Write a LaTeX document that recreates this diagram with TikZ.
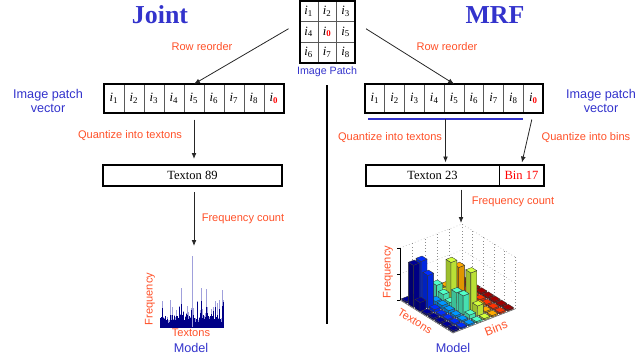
\documentclass[tikz,border=0pt]{standalone}
\usepackage{fontspec}
\setmainfont{Liberation Serif}
\setsansfont{Liberation Sans}
\usepackage{tikz}
\usetikzlibrary{positioning}
\usetikzlibrary{calc}
\usetikzlibrary{arrows.meta}
\definecolor{labelred}{RGB}{255,80,40}
\definecolor{titleblue}{RGB}{51,51,204}
\definecolor{histdark}{RGB}{0,0,135}
\definecolor{histlight}{RGB}{160,160,220}
\definecolor{bin0}{RGB}{0,0,150}
\definecolor{bin1}{RGB}{0,45,255}
\definecolor{bin2}{RGB}{0,150,255}
\definecolor{bin3}{RGB}{80,255,200}
\definecolor{bin4}{RGB}{210,255,60}
\definecolor{bin5}{RGB}{255,170,0}
\definecolor{bin6}{RGB}{255,50,0}
\definecolor{bin7}{RGB}{160,0,0}
\tikzstyle{cell} = [draw=black!65, line width=0.5pt, inner sep=0pt, outer sep=0pt, font=\fontsize{9.5}{10}\selectfont]
\tikzstyle{vcell} = [cell, minimum width=15pt, minimum height=21.75pt]
\tikzstyle{rvcell} = [cell, minimum width=14.85pt, minimum height=21.75pt]
\tikzstyle{pcell} = [cell, minimum width=13.875pt, minimum height=15.375pt]
\tikzstyle{heavybox} = [draw=black, line width=1.5pt]
\tikzstyle{tbox} = [draw=black, line width=0.6pt, minimum height=15.75pt, inner sep=0pt, outer sep=0pt, font=\fontsize{9.4}{10}\selectfont]
\tikzstyle{lbl} = [font=\sffamily\fontsize{8.3}{10}\selectfont, text=labelred]
\tikzstyle{bluelbl} = [font=\sffamily\fontsize{9.5}{11}\selectfont, text=titleblue, align=center]
\tikzstyle{ttl} = [font=\bfseries\fontsize{19.4}{22}\selectfont, text=titleblue, anchor=base]
\tikzstyle{conn} = [->, line width=0.6pt, draw=black!85]
\tikzstyle{gridline} = [draw=black!45, dotted, line width=0.4pt]
\tikzstyle{barline} = [draw=black!80, line width=0.25pt]
\newcommand{\ient}[1]{\textit{i}\textsubscript{#1}}
\newcommand{\izero}{\textcolor{red}{\textbf{0}}}
% one bar of the 3d model: texton, bin, height, colour
\newcommand{\modelbar}[4]{%
  \filldraw[barline, fill=#4!75!black] (#1+0.12,#2+0.12,0) -- (#1+0.88,#2+0.12,0) -- (#1+0.88,#2+0.12,#3) -- (#1+0.12,#2+0.12,#3) -- cycle;
  \filldraw[barline, fill=#4!88!black] (#1+0.88,#2+0.12,0) -- (#1+0.88,#2+0.88,0) -- (#1+0.88,#2+0.88,#3) -- (#1+0.88,#2+0.12,#3) -- cycle;
  \filldraw[barline, fill=#4] (#1+0.12,#2+0.12,#3) -- (#1+0.88,#2+0.12,#3) -- (#1+0.88,#2+0.88,#3) -- (#1+0.12,#2+0.88,#3) -- cycle;}

\begin{document}
\begin{tikzpicture}[x=0.75pt, y=-0.75pt, >={Latex[length=4.5pt,width=3.6pt]}]
    \useasboundingbox (0,0) rectangle (638,362);

    \node [ttl] (joint) at (160,23) {Joint};
    \node [ttl] (mrf) at (495,23) {MRF};

    % image patch
    \foreach \n/\c/\r/\s in {1/0/0/1,2/1/0/2,3/2/0/3,4/0/1/4,5/1/1/\izero,6/2/1/5,7/0/2/6,8/1/2/7,9/2/2/8}
        \node [pcell] (p\n) at (308.75+18.5*\c, 11.25+20.5*\r) {\ient{\s}};
    \draw [heavybox] (p1.north west) rectangle (p9.south east);
    \node [bluelbl, font=\sffamily\fontsize{8}{10}\selectfont] (patchlbl) at (327,72) {Image Patch};

    % patch vectors
    \foreach \n/\s in {1/1,2/2,3/3,4/4,5/5,6/6,7/7,8/8,9/\izero} {
        \node [vcell] (lv\n) at (94+20*\n, 98.5) {\ient{\s}};
        \node [rvcell] (rv\n) at (355.1+19.8*\n, 98.5) {\ient{\s}};
    }
    \draw [heavybox] (lv1.north west) rectangle (lv9.south east);
    \draw [heavybox] (rv1.north west) rectangle (rv9.south east);
    \node [bluelbl] (lvlbl) at (48,101) {Image patch\\vector};
    \node [bluelbl] (rvlbl) at (601,101) {Image patch\\vector};

    \draw [conn] ($(p4.west)+(-11,-3)$) -- (lv5.north);
    \draw [conn] ($(p6.east)+(11,-3)$) -- (rv5.north);
    \node [lbl] (rowl) at (202,47) {Row reorder};
    \node [lbl] (rowr) at (447,47) {Row reorder};

    % texton boxes
    \node [tbox, minimum width=134.25pt] (ltex) at (192.5,175.5) {Texton 89};
    \node [tbox, minimum width=99.75pt] (rtex) at (432.5,175) {Texton 23};
    \node [tbox, minimum width=33.75pt, text=red, right=0pt of rtex] (rbin) {Bin 17};
    \draw [heavybox] (ltex.north west) rectangle (ltex.south east);
    \draw [heavybox] (rtex.north west) rectangle (rbin.south east);

    \draw [conn, shorten <=5pt, shorten >=4.5pt] (lv5.south) -- (lv5.south |- ltex.north);
    \node [lbl] (ql) at (130,136) {Quantize into textons};

    \coordinate (bla) at (368,119);
    \coordinate (blb) at (523,119);
    \coordinate (blm) at ($(bla)!0.5!(blb)$);
    \draw [titleblue, line width=0.8pt] (bla) -- (blb);
    \draw [conn, shorten >=1.5pt] (blm) -- (blm |- rtex.north);
    \draw [conn, shorten <=5pt, shorten >=1.5pt] (rv9.south) -- (rbin.north);
    \node [lbl] (qr) at (390,138) {Quantize into textons};
    \node [lbl] (qb) at (586,138) {Quantize into bins};

    % frequency count
    \coordinate (lmodel) at (194,246);
    \draw [conn, shorten <=4.5pt] (lmodel |- ltex.south) -- (lmodel);
    \node [lbl] (fl) at (243,219) {Frequency count};
    \coordinate (rmodel) at (461,223);
    \draw [conn, shorten <=3pt] (rmodel |- rtex.south) -- (rmodel);
    \node [lbl] (fr) at (513,202) {Frequency count};

    \coordinate (divtop) at (327,85);
    \coordinate (divbot) at (327,324);
    \draw [line width=0.9pt] (divtop) -- (divbot);

    % joint model: texton histogram
    \pgfmathsetseed{42}
    \foreach \k in {0,...,63} {
        \pgfmathsetmacro{\hl}{6+34*rnd*rnd}
        \pgfmathsetmacro{\hd}{max(4+8*rnd,\hl*(0.45+0.55*rnd))}
        \fill [histlight] (160+\k,327) rectangle ++(1.3,-\hl);
        \fill [histdark] (160+\k,327) rectangle ++(1.3,-\hd);
    }
    \fill [histlight] (192,327) rectangle ++(1.4,-71);
    \draw [histdark, line width=0.6pt] (160,327) -- (224,327);
    \node [lbl, rotate=90] (lfreq) at (150,299) {Frequency};
    \node [lbl] (ltxt) at (191,333) {Textons};
    \node [bluelbl] (lmodlbl) at (191,348) {Model};

    % mrf model: textons x bins
    \begin{scope}[shift={(400,300)}, x={(4.96875pt,-3.09375pt)}, y={(5.8125pt,2.25pt)}, z={(0pt,0.75pt)}]
        \foreach \k in {0,1.6,3.2,4.8,6.4,8} {
            \draw [gridline] (0,\k,0) -- (0,\k,52);
            \draw [gridline] (\k,8,0) -- (\k,8,52);
            \draw [gridline] (\k,0,0) -- (\k,8,0);
            \draw [gridline] (0,\k,0) -- (8,\k,0);
        }
        \foreach \h in {26,52}
            \draw [gridline] (0,0,\h) -- (0,8,\h) -- (8,8,\h);
        \draw [black!60, line width=0.4pt] (0,0,0) -- (8,0,0) -- (8,8,0);
        \draw [black, line width=0.5pt] (0,0,52) -- (0,0,0);
        \foreach \h in {0,26,52}
            \draw [black, line width=0.5pt] (0,0,\h) -- ++(-2pt,0pt);
        \foreach \b/\col/\hs in {7/bin7/{1.5,1.5,1.5,1.5,1.5,1.5,1.5,1.5},
                                 6/bin6/{1.5,2,2,2,2,1.5,1.5,1.5},
                                 5/bin5/{1.5,1.5,29,3,1.5,4,1.5,1.5},
                                 4/bin4/{1.5,3,37,6,12,39,10,1.5},
                                 3/bin3/{1.5,13,8,4,18,19,4,1.5},
                                 2/bin2/{1.5,1.5,4,4,3,2,1.5,1.5},
                                 1/bin1/{1.5,43,33,3,1.5,1.5,1.5,1.5},
                                 0/bin0/{1.5,42,9,1.5,1.5,1.5,1.5,1.5}}
            \foreach \h [count=\t from 0] in \hs
                \modelbar{\t}{\b}{\h}{\col};
    \end{scope}
    \node [lbl, rotate=90] (rfreq) at (388,272) {Frequency};
    \node [lbl, rotate=-32] (rtxt) at (415,321) {Textons};
    \node [lbl, rotate=21, font=\sffamily\fontsize{9}{10}\selectfont] (rbins) at (496,328) {Bins};
    \node [bluelbl] (rmodlbl) at (453,348) {Model};

\end{tikzpicture}
\end{document}
